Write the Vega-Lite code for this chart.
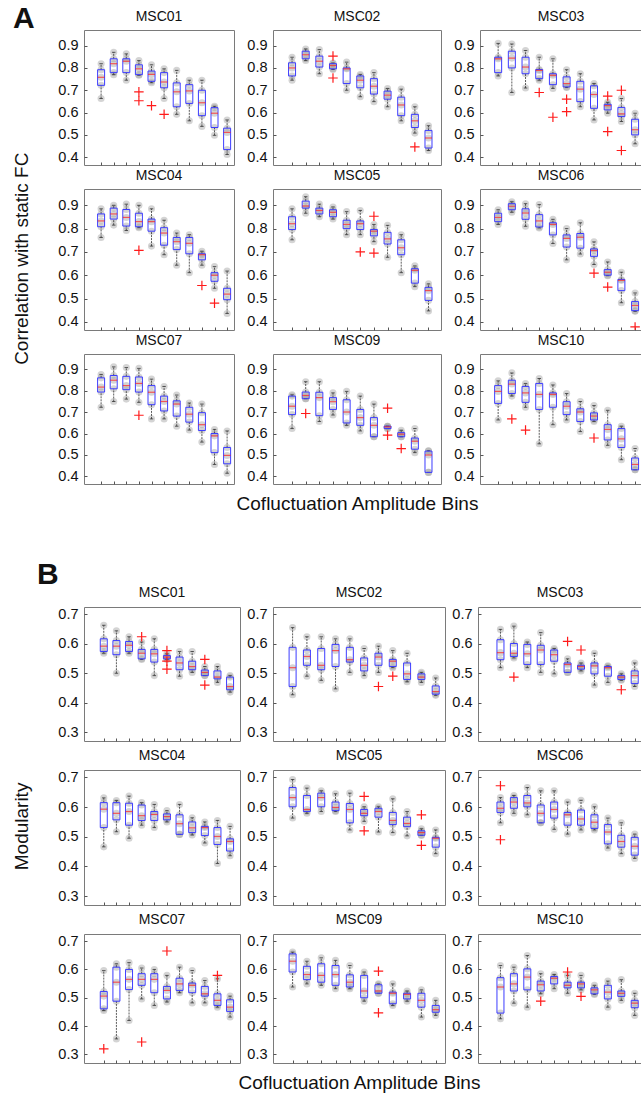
{
"$schema":"https://vega.github.io/schema/vega-lite/v6.json",
"padding":{"left":12,"top":3,"right":0,"bottom":0},
"background":"white",
"datasets":{"d":[
{"s":"A","p":"MSC01","b":1,"lo":0.663,"q1":0.722,"md":0.758,"q3":0.792,"hi":0.819},
{"s":"A","p":"MSC01","b":2,"lo":0.770,"q1":0.779,"md":0.819,"q3":0.841,"hi":0.870},
{"s":"A","p":"MSC01","b":3,"lo":0.745,"q1":0.779,"md":0.830,"q3":0.841,"hi":0.863},
{"s":"A","p":"MSC01","b":4,"lo":0.767,"q1":0.770,"md":0.796,"q3":0.814,"hi":0.833,"o":[0.693,0.653]},
{"s":"A","p":"MSC01","b":5,"lo":0.734,"q1":0.740,"md":0.771,"q3":0.786,"hi":0.814,"o":[0.631]},
{"s":"A","p":"MSC01","b":6,"lo":0.663,"q1":0.711,"md":0.737,"q3":0.779,"hi":0.796,"o":[0.592]},
{"s":"A","p":"MSC01","b":7,"lo":0.592,"q1":0.626,"md":0.693,"q3":0.733,"hi":0.789},
{"s":"A","p":"MSC01","b":8,"lo":0.563,"q1":0.641,"md":0.697,"q3":0.725,"hi":0.745},
{"s":"A","p":"MSC01","b":9,"lo":0.538,"q1":0.586,"md":0.644,"q3":0.700,"hi":0.745},
{"s":"A","p":"MSC01","b":10,"lo":0.498,"q1":0.533,"md":0.597,"q3":0.622,"hi":0.628},
{"s":"A","p":"MSC01","b":11,"lo":0.412,"q1":0.434,"md":0.511,"q3":0.530,"hi":0.567},
{"s":"A","p":"MSC02","b":1,"lo":0.745,"q1":0.764,"md":0.800,"q3":0.823,"hi":0.848},
{"s":"A","p":"MSC02","b":2,"lo":0.833,"q1":0.841,"md":0.859,"q3":0.875,"hi":0.885},
{"s":"A","p":"MSC02","b":3,"lo":0.774,"q1":0.804,"md":0.830,"q3":0.853,"hi":0.882},
{"s":"A","p":"MSC02","b":4,"lo":0.793,"q1":0.796,"md":0.811,"q3":0.819,"hi":0.822,"o":[0.853,0.755]},
{"s":"A","p":"MSC02","b":5,"lo":0.700,"q1":0.730,"md":0.796,"q3":0.800,"hi":0.826},
{"s":"A","p":"MSC02","b":6,"lo":0.671,"q1":0.711,"md":0.745,"q3":0.764,"hi":0.770},
{"s":"A","p":"MSC02","b":7,"lo":0.649,"q1":0.683,"md":0.718,"q3":0.752,"hi":0.779},
{"s":"A","p":"MSC02","b":8,"lo":0.626,"q1":0.660,"md":0.678,"q3":0.696,"hi":0.708},
{"s":"A","p":"MSC02","b":9,"lo":0.563,"q1":0.586,"md":0.634,"q3":0.669,"hi":0.705},
{"s":"A","p":"MSC02","b":10,"lo":0.508,"q1":0.533,"md":0.563,"q3":0.592,"hi":0.626,"o":[0.446]},
{"s":"A","p":"MSC02","b":11,"lo":0.430,"q1":0.441,"md":0.486,"q3":0.520,"hi":0.541},
{"s":"A","p":"MSC03","b":1,"lo":0.764,"q1":0.779,"md":0.841,"q3":0.848,"hi":0.910},
{"s":"A","p":"MSC03","b":2,"lo":0.690,"q1":0.800,"md":0.844,"q3":0.875,"hi":0.907},
{"s":"A","p":"MSC03","b":3,"lo":0.710,"q1":0.774,"md":0.804,"q3":0.848,"hi":0.878},
{"s":"A","p":"MSC03","b":4,"lo":0.745,"q1":0.752,"md":0.789,"q3":0.793,"hi":0.848,"o":[0.690]},
{"s":"A","p":"MSC03","b":5,"lo":0.708,"q1":0.725,"md":0.767,"q3":0.774,"hi":0.841,"o":[0.579]},
{"s":"A","p":"MSC03","b":6,"lo":0.712,"q1":0.715,"md":0.730,"q3":0.760,"hi":0.792,"o":[0.660,0.604]},
{"s":"A","p":"MSC03","b":7,"lo":0.626,"q1":0.649,"md":0.705,"q3":0.740,"hi":0.774},
{"s":"A","p":"MSC03","b":8,"lo":0.567,"q1":0.619,"md":0.681,"q3":0.720,"hi":0.730},
{"s":"A","p":"MSC03","b":9,"lo":0.597,"q1":0.612,"md":0.631,"q3":0.637,"hi":0.646,"o":[0.674,0.515]},
{"s":"A","p":"MSC03","b":10,"lo":0.560,"q1":0.582,"md":0.594,"q3":0.623,"hi":0.663,"o":[0.700,0.430]},
{"s":"A","p":"MSC03","b":11,"lo":0.460,"q1":0.500,"md":0.523,"q3":0.570,"hi":0.597},
{"s":"A","p":"MSC04","b":1,"lo":0.762,"q1":0.808,"md":0.833,"q3":0.863,"hi":0.885},
{"s":"A","p":"MSC04","b":2,"lo":0.815,"q1":0.841,"md":0.863,"q3":0.888,"hi":0.900},
{"s":"A","p":"MSC04","b":3,"lo":0.792,"q1":0.811,"md":0.848,"q3":0.882,"hi":0.905},
{"s":"A","p":"MSC04","b":4,"lo":0.804,"q1":0.808,"md":0.830,"q3":0.866,"hi":0.900,"o":[0.707]},
{"s":"A","p":"MSC04","b":5,"lo":0.725,"q1":0.789,"md":0.830,"q3":0.841,"hi":0.885},
{"s":"A","p":"MSC04","b":6,"lo":0.688,"q1":0.729,"md":0.781,"q3":0.804,"hi":0.836},
{"s":"A","p":"MSC04","b":7,"lo":0.643,"q1":0.710,"md":0.744,"q3":0.762,"hi":0.781},
{"s":"A","p":"MSC04","b":8,"lo":0.611,"q1":0.692,"md":0.737,"q3":0.762,"hi":0.774},
{"s":"A","p":"MSC04","b":9,"lo":0.643,"q1":0.666,"md":0.688,"q3":0.692,"hi":0.703,"o":[0.556]},
{"s":"A","p":"MSC04","b":10,"lo":0.544,"q1":0.574,"md":0.600,"q3":0.611,"hi":0.637,"o":[0.480]},
{"s":"A","p":"MSC04","b":11,"lo":0.436,"q1":0.495,"md":0.519,"q3":0.544,"hi":0.618},
{"s":"A","p":"MSC05","b":1,"lo":0.752,"q1":0.796,"md":0.821,"q3":0.851,"hi":0.885},
{"s":"A","p":"MSC05","b":2,"lo":0.866,"q1":0.888,"md":0.897,"q3":0.918,"hi":0.937},
{"s":"A","p":"MSC05","b":3,"lo":0.851,"q1":0.863,"md":0.878,"q3":0.888,"hi":0.905},
{"s":"A","p":"MSC05","b":4,"lo":0.841,"q1":0.851,"md":0.870,"q3":0.881,"hi":0.893},
{"s":"A","p":"MSC05","b":5,"lo":0.774,"q1":0.800,"md":0.818,"q3":0.836,"hi":0.873},
{"s":"A","p":"MSC05","b":6,"lo":0.774,"q1":0.796,"md":0.821,"q3":0.833,"hi":0.878,"o":[0.700]},
{"s":"A","p":"MSC05","b":7,"lo":0.744,"q1":0.769,"md":0.789,"q3":0.796,"hi":0.818,"o":[0.853,0.695]},
{"s":"A","p":"MSC05","b":8,"lo":0.677,"q1":0.734,"md":0.756,"q3":0.784,"hi":0.814},
{"s":"A","p":"MSC05","b":9,"lo":0.611,"q1":0.688,"md":0.718,"q3":0.752,"hi":0.774},
{"s":"A","p":"MSC05","b":10,"lo":0.551,"q1":0.566,"md":0.621,"q3":0.628,"hi":0.640},
{"s":"A","p":"MSC05","b":11,"lo":0.447,"q1":0.492,"md":0.534,"q3":0.548,"hi":0.563},
{"s":"A","p":"MSC06","b":1,"lo":0.818,"q1":0.830,"md":0.848,"q3":0.866,"hi":0.881},
{"s":"A","p":"MSC06","b":2,"lo":0.870,"q1":0.881,"md":0.896,"q3":0.907,"hi":0.915},
{"s":"A","p":"MSC06","b":3,"lo":0.810,"q1":0.840,"md":0.867,"q3":0.885,"hi":0.907},
{"s":"A","p":"MSC06","b":4,"lo":0.803,"q1":0.807,"md":0.833,"q3":0.860,"hi":0.903},
{"s":"A","p":"MSC06","b":5,"lo":0.736,"q1":0.773,"md":0.818,"q3":0.825,"hi":0.840},
{"s":"A","p":"MSC06","b":6,"lo":0.666,"q1":0.721,"md":0.758,"q3":0.773,"hi":0.800},
{"s":"A","p":"MSC06","b":7,"lo":0.691,"q1":0.716,"md":0.763,"q3":0.779,"hi":0.825},
{"s":"A","p":"MSC06","b":8,"lo":0.646,"q1":0.681,"md":0.706,"q3":0.713,"hi":0.743,"o":[0.609]},
{"s":"A","p":"MSC06","b":9,"lo":0.598,"q1":0.600,"md":0.613,"q3":0.624,"hi":0.657,"o":[0.549]},
{"s":"A","p":"MSC06","b":10,"lo":0.482,"q1":0.534,"md":0.578,"q3":0.582,"hi":0.613},
{"s":"A","p":"MSC06","b":11,"lo":0.445,"q1":0.448,"md":0.470,"q3":0.487,"hi":0.524,"o":[0.378]},
{"s":"A","p":"MSC07","b":1,"lo":0.722,"q1":0.793,"md":0.816,"q3":0.859,"hi":0.875},
{"s":"A","p":"MSC07","b":2,"lo":0.749,"q1":0.808,"md":0.848,"q3":0.870,"hi":0.910},
{"s":"A","p":"MSC07","b":3,"lo":0.760,"q1":0.804,"md":0.823,"q3":0.866,"hi":0.907},
{"s":"A","p":"MSC07","b":4,"lo":0.745,"q1":0.793,"md":0.833,"q3":0.863,"hi":0.903,"o":[0.685]},
{"s":"A","p":"MSC07","b":5,"lo":0.668,"q1":0.734,"md":0.792,"q3":0.823,"hi":0.853},
{"s":"A","p":"MSC07","b":6,"lo":0.668,"q1":0.705,"md":0.749,"q3":0.774,"hi":0.819},
{"s":"A","p":"MSC07","b":7,"lo":0.634,"q1":0.681,"md":0.737,"q3":0.752,"hi":0.779},
{"s":"A","p":"MSC07","b":8,"lo":0.616,"q1":0.653,"md":0.690,"q3":0.722,"hi":0.742},
{"s":"A","p":"MSC07","b":9,"lo":0.560,"q1":0.614,"md":0.641,"q3":0.697,"hi":0.737},
{"s":"A","p":"MSC07","b":10,"lo":0.456,"q1":0.511,"md":0.589,"q3":0.600,"hi":0.619},
{"s":"A","p":"MSC07","b":11,"lo":0.415,"q1":0.459,"md":0.498,"q3":0.535,"hi":0.612},
{"s":"A","p":"MSC09","b":1,"lo":0.623,"q1":0.688,"md":0.727,"q3":0.774,"hi":0.780},
{"s":"A","p":"MSC09","b":2,"lo":0.762,"q1":0.762,"md":0.777,"q3":0.793,"hi":0.841,"o":[0.693]},
{"s":"A","p":"MSC09","b":3,"lo":0.656,"q1":0.683,"md":0.767,"q3":0.792,"hi":0.841},
{"s":"A","p":"MSC09","b":4,"lo":0.686,"q1":0.712,"md":0.748,"q3":0.767,"hi":0.789},
{"s":"A","p":"MSC09","b":5,"lo":0.638,"q1":0.649,"md":0.700,"q3":0.757,"hi":0.796},
{"s":"A","p":"MSC09","b":6,"lo":0.612,"q1":0.638,"md":0.674,"q3":0.712,"hi":0.774},
{"s":"A","p":"MSC09","b":7,"lo":0.585,"q1":0.585,"md":0.638,"q3":0.674,"hi":0.737},
{"s":"A","p":"MSC09","b":8,"lo":0.623,"q1":0.623,"md":0.631,"q3":0.634,"hi":0.634,"o":[0.718,0.592]},
{"s":"A","p":"MSC09","b":9,"lo":0.585,"q1":0.585,"md":0.597,"q3":0.604,"hi":0.615,"o":[0.530]},
{"s":"A","p":"MSC09","b":10,"lo":0.511,"q1":0.527,"md":0.564,"q3":0.579,"hi":0.623},
{"s":"A","p":"MSC09","b":11,"lo":0.419,"q1":0.419,"md":0.500,"q3":0.518,"hi":0.520},
{"s":"A","p":"MSC10","b":1,"lo":0.663,"q1":0.740,"md":0.796,"q3":0.823,"hi":0.845},
{"s":"A","p":"MSC10","b":2,"lo":0.774,"q1":0.786,"md":0.830,"q3":0.848,"hi":0.882,"o":[0.668]},
{"s":"A","p":"MSC10","b":3,"lo":0.722,"q1":0.745,"md":0.789,"q3":0.819,"hi":0.833,"o":[0.616]},
{"s":"A","p":"MSC10","b":4,"lo":0.552,"q1":0.712,"md":0.782,"q3":0.833,"hi":0.856},
{"s":"A","p":"MSC10","b":5,"lo":0.641,"q1":0.722,"md":0.782,"q3":0.789,"hi":0.826},
{"s":"A","p":"MSC10","b":6,"lo":0.663,"q1":0.688,"md":0.727,"q3":0.748,"hi":0.786},
{"s":"A","p":"MSC10","b":7,"lo":0.609,"q1":0.656,"md":0.700,"q3":0.715,"hi":0.749},
{"s":"A","p":"MSC10","b":8,"lo":0.656,"q1":0.663,"md":0.681,"q3":0.696,"hi":0.730,"o":[0.579]},
{"s":"A","p":"MSC10","b":9,"lo":0.545,"q1":0.570,"md":0.619,"q3":0.641,"hi":0.708},
{"s":"A","p":"MSC10","b":10,"lo":0.478,"q1":0.535,"md":0.575,"q3":0.623,"hi":0.634},
{"s":"A","p":"MSC10","b":11,"lo":0.431,"q1":0.431,"md":0.456,"q3":0.486,"hi":0.530},
{"s":"B","p":"MSC01","b":1,"lo":0.568,"q1":0.574,"md":0.592,"q3":0.617,"hi":0.663},
{"s":"B","p":"MSC01","b":2,"lo":0.500,"q1":0.563,"md":0.592,"q3":0.611,"hi":0.644},
{"s":"B","p":"MSC01","b":3,"lo":0.568,"q1":0.574,"md":0.595,"q3":0.608,"hi":0.624},
{"s":"B","p":"MSC01","b":4,"lo":0.547,"q1":0.549,"md":0.568,"q3":0.581,"hi":0.606,"o":[0.624]},
{"s":"B","p":"MSC01","b":5,"lo":0.492,"q1":0.538,"md":0.566,"q3":0.581,"hi":0.617},
{"s":"B","p":"MSC01","b":6,"lo":0.547,"q1":0.549,"md":0.555,"q3":0.560,"hi":0.566,"o":[0.577,0.541,0.514]},
{"s":"B","p":"MSC01","b":7,"lo":0.490,"q1":0.512,"md":0.535,"q3":0.555,"hi":0.574},
{"s":"B","p":"MSC01","b":8,"lo":0.503,"q1":0.512,"md":0.523,"q3":0.541,"hi":0.574},
{"s":"B","p":"MSC01","b":9,"lo":0.492,"q1":0.492,"md":0.503,"q3":0.511,"hi":0.523,"o":[0.547,0.460]},
{"s":"B","p":"MSC01","b":10,"lo":0.469,"q1":0.481,"md":0.487,"q3":0.508,"hi":0.523},
{"s":"B","p":"MSC01","b":11,"lo":0.436,"q1":0.444,"md":0.455,"q3":0.487,"hi":0.492},
{"s":"B","p":"MSC02","b":1,"lo":0.427,"q1":0.455,"md":0.519,"q3":0.588,"hi":0.655},
{"s":"B","p":"MSC02","b":2,"lo":0.490,"q1":0.527,"md":0.557,"q3":0.579,"hi":0.624},
{"s":"B","p":"MSC02","b":3,"lo":0.476,"q1":0.512,"md":0.527,"q3":0.584,"hi":0.624},
{"s":"B","p":"MSC02","b":4,"lo":0.447,"q1":0.523,"md":0.577,"q3":0.598,"hi":0.617},
{"s":"B","p":"MSC02","b":5,"lo":0.503,"q1":0.538,"md":0.546,"q3":0.588,"hi":0.617},
{"s":"B","p":"MSC02","b":6,"lo":0.492,"q1":0.508,"md":0.527,"q3":0.552,"hi":0.584},
{"s":"B","p":"MSC02","b":7,"lo":0.503,"q1":0.527,"md":0.555,"q3":0.568,"hi":0.592,"o":[0.455]},
{"s":"B","p":"MSC02","b":8,"lo":0.519,"q1":0.523,"md":0.541,"q3":0.547,"hi":0.577,"o":[0.490]},
{"s":"B","p":"MSC02","b":9,"lo":0.471,"q1":0.479,"md":0.498,"q3":0.535,"hi":0.568},
{"s":"B","p":"MSC02","b":10,"lo":0.469,"q1":0.479,"md":0.487,"q3":0.498,"hi":0.503},
{"s":"B","p":"MSC02","b":11,"lo":0.425,"q1":0.429,"md":0.438,"q3":0.457,"hi":0.484},
{"s":"B","p":"MSC03","b":1,"lo":0.519,"q1":0.546,"md":0.570,"q3":0.614,"hi":0.649},
{"s":"B","p":"MSC03","b":2,"lo":0.552,"q1":0.557,"md":0.568,"q3":0.601,"hi":0.660,"o":[0.487]},
{"s":"B","p":"MSC03","b":3,"lo":0.519,"q1":0.530,"md":0.566,"q3":0.598,"hi":0.606},
{"s":"B","p":"MSC03","b":4,"lo":0.503,"q1":0.530,"md":0.579,"q3":0.595,"hi":0.638},
{"s":"B","p":"MSC03","b":5,"lo":0.498,"q1":0.541,"md":0.563,"q3":0.579,"hi":0.584},
{"s":"B","p":"MSC03","b":6,"lo":0.503,"q1":0.503,"md":0.530,"q3":0.535,"hi":0.549,"o":[0.608]},
{"s":"B","p":"MSC03","b":7,"lo":0.508,"q1":0.514,"md":0.523,"q3":0.527,"hi":0.535,"o":[0.579]},
{"s":"B","p":"MSC03","b":8,"lo":0.460,"q1":0.498,"md":0.525,"q3":0.535,"hi":0.568},
{"s":"B","p":"MSC03","b":9,"lo":0.469,"q1":0.490,"md":0.519,"q3":0.523,"hi":0.525},
{"s":"B","p":"MSC03","b":10,"lo":0.476,"q1":0.479,"md":0.487,"q3":0.492,"hi":0.498,"o":[0.444]},
{"s":"B","p":"MSC03","b":11,"lo":0.455,"q1":0.465,"md":0.492,"q3":0.508,"hi":0.535},
{"s":"B","p":"MSC04","b":1,"lo":0.466,"q1":0.531,"md":0.593,"q3":0.615,"hi":0.631},
{"s":"B","p":"MSC04","b":2,"lo":0.517,"q1":0.557,"md":0.579,"q3":0.615,"hi":0.622},
{"s":"B","p":"MSC04","b":3,"lo":0.495,"q1":0.539,"md":0.585,"q3":0.613,"hi":0.637},
{"s":"B","p":"MSC04","b":4,"lo":0.539,"q1":0.555,"md":0.571,"q3":0.607,"hi":0.615},
{"s":"B","p":"MSC04","b":5,"lo":0.531,"q1":0.555,"md":0.575,"q3":0.585,"hi":0.609},
{"s":"B","p":"MSC04","b":6,"lo":0.550,"q1":0.557,"md":0.568,"q3":0.577,"hi":0.588},
{"s":"B","p":"MSC04","b":7,"lo":0.508,"q1":0.508,"md":0.544,"q3":0.574,"hi":0.609},
{"s":"B","p":"MSC04","b":8,"lo":0.506,"q1":0.514,"md":0.530,"q3":0.550,"hi":0.564},
{"s":"B","p":"MSC04","b":9,"lo":0.479,"q1":0.504,"md":0.531,"q3":0.535,"hi":0.550},
{"s":"B","p":"MSC04","b":10,"lo":0.410,"q1":0.474,"md":0.501,"q3":0.531,"hi":0.555},
{"s":"B","p":"MSC04","b":11,"lo":0.436,"q1":0.452,"md":0.484,"q3":0.493,"hi":0.535},
{"s":"B","p":"MSC05","b":1,"lo":0.563,"q1":0.601,"md":0.632,"q3":0.666,"hi":0.693},
{"s":"B","p":"MSC05","b":2,"lo":0.579,"q1":0.585,"md":0.592,"q3":0.639,"hi":0.664},
{"s":"B","p":"MSC05","b":3,"lo":0.585,"q1":0.601,"md":0.632,"q3":0.647,"hi":0.655},
{"s":"B","p":"MSC05","b":4,"lo":0.585,"q1":0.588,"md":0.599,"q3":0.617,"hi":0.645},
{"s":"B","p":"MSC05","b":5,"lo":0.523,"q1":0.547,"md":0.592,"q3":0.612,"hi":0.647},
{"s":"B","p":"MSC05","b":6,"lo":0.552,"q1":0.571,"md":0.579,"q3":0.592,"hi":0.601,"o":[0.636,0.520]},
{"s":"B","p":"MSC05","b":7,"lo":0.516,"q1":0.566,"md":0.585,"q3":0.596,"hi":0.601},
{"s":"B","p":"MSC05","b":8,"lo":0.514,"q1":0.541,"md":0.555,"q3":0.582,"hi":0.628},
{"s":"B","p":"MSC05","b":9,"lo":0.503,"q1":0.534,"md":0.545,"q3":0.566,"hi":0.585},
{"s":"B","p":"MSC05","b":10,"lo":0.505,"q1":0.505,"md":0.514,"q3":0.520,"hi":0.527,"o":[0.574,0.471]},
{"s":"B","p":"MSC05","b":11,"lo":0.443,"q1":0.465,"md":0.495,"q3":0.498,"hi":0.523},
{"s":"B","p":"MSC06","b":1,"lo":0.547,"q1":0.582,"md":0.596,"q3":0.617,"hi":0.632,"o":[0.672,0.490]},
{"s":"B","p":"MSC06","b":2,"lo":0.579,"q1":0.596,"md":0.617,"q3":0.632,"hi":0.639},
{"s":"B","p":"MSC06","b":3,"lo":0.574,"q1":0.601,"md":0.614,"q3":0.639,"hi":0.666},
{"s":"B","p":"MSC06","b":4,"lo":0.547,"q1":0.547,"md":0.579,"q3":0.607,"hi":0.655},
{"s":"B","p":"MSC06","b":5,"lo":0.525,"q1":0.563,"md":0.592,"q3":0.617,"hi":0.655},
{"s":"B","p":"MSC06","b":6,"lo":0.509,"q1":0.539,"md":0.574,"q3":0.582,"hi":0.617},
{"s":"B","p":"MSC06","b":7,"lo":0.523,"q1":0.539,"md":0.560,"q3":0.590,"hi":0.623},
{"s":"B","p":"MSC06","b":8,"lo":0.523,"q1":0.528,"md":0.549,"q3":0.574,"hi":0.601},
{"s":"B","p":"MSC06","b":9,"lo":0.462,"q1":0.476,"md":0.516,"q3":0.541,"hi":0.563},
{"s":"B","p":"MSC06","b":10,"lo":0.443,"q1":0.465,"md":0.484,"q3":0.505,"hi":0.547},
{"s":"B","p":"MSC06","b":11,"lo":0.427,"q1":0.438,"md":0.468,"q3":0.498,"hi":0.509},
{"s":"B","p":"MSC07","b":1,"lo":0.455,"q1":0.461,"md":0.506,"q3":0.522,"hi":0.596,"o":[0.320]},
{"s":"B","p":"MSC07","b":2,"lo":0.355,"q1":0.488,"md":0.555,"q3":0.608,"hi":0.620},
{"s":"B","p":"MSC07","b":3,"lo":0.420,"q1":0.529,"md":0.565,"q3":0.600,"hi":0.624},
{"s":"B","p":"MSC07","b":4,"lo":0.496,"q1":0.544,"md":0.565,"q3":0.585,"hi":0.605,"o":[0.344]},
{"s":"B","p":"MSC07","b":5,"lo":0.473,"q1":0.518,"md":0.565,"q3":0.585,"hi":0.600},
{"s":"B","p":"MSC07","b":6,"lo":0.485,"q1":0.496,"md":0.526,"q3":0.540,"hi":0.579,"o":[0.665]},
{"s":"B","p":"MSC07","b":7,"lo":0.518,"q1":0.526,"md":0.549,"q3":0.569,"hi":0.608},
{"s":"B","p":"MSC07","b":8,"lo":0.482,"q1":0.518,"md":0.544,"q3":0.552,"hi":0.596},
{"s":"B","p":"MSC07","b":9,"lo":0.482,"q1":0.506,"md":0.514,"q3":0.540,"hi":0.561},
{"s":"B","p":"MSC07","b":10,"lo":0.467,"q1":0.473,"md":0.491,"q3":0.514,"hi":0.567,"o":[0.579]},
{"s":"B","p":"MSC07","b":11,"lo":0.432,"q1":0.452,"md":0.467,"q3":0.493,"hi":0.506},
{"s":"B","p":"MSC09","b":1,"lo":0.538,"q1":0.591,"md":0.629,"q3":0.655,"hi":0.661},
{"s":"B","p":"MSC09","b":2,"lo":0.549,"q1":0.564,"md":0.582,"q3":0.611,"hi":0.629},
{"s":"B","p":"MSC09","b":3,"lo":0.544,"q1":0.555,"md":0.579,"q3":0.620,"hi":0.641},
{"s":"B","p":"MSC09","b":4,"lo":0.532,"q1":0.544,"md":0.582,"q3":0.614,"hi":0.632},
{"s":"B","p":"MSC09","b":5,"lo":0.532,"q1":0.538,"md":0.555,"q3":0.581,"hi":0.614},
{"s":"B","p":"MSC09","b":6,"lo":0.488,"q1":0.500,"md":0.524,"q3":0.579,"hi":0.591},
{"s":"B","p":"MSC09","b":7,"lo":0.516,"q1":0.516,"md":0.524,"q3":0.546,"hi":0.549,"o":[0.594,0.447]},
{"s":"B","p":"MSC09","b":8,"lo":0.473,"q1":0.479,"md":0.516,"q3":0.520,"hi":0.549},
{"s":"B","p":"MSC09","b":9,"lo":0.488,"q1":0.496,"md":0.512,"q3":0.516,"hi":0.524},
{"s":"B","p":"MSC09","b":10,"lo":0.432,"q1":0.467,"md":0.491,"q3":0.516,"hi":0.528},
{"s":"B","p":"MSC09","b":11,"lo":0.438,"q1":0.449,"md":0.458,"q3":0.473,"hi":0.491},
{"s":"B","p":"MSC10","b":1,"lo":0.426,"q1":0.446,"md":0.538,"q3":0.571,"hi":0.614},
{"s":"B","p":"MSC10","b":2,"lo":0.481,"q1":0.524,"md":0.549,"q3":0.585,"hi":0.608},
{"s":"B","p":"MSC10","b":3,"lo":0.467,"q1":0.528,"md":0.573,"q3":0.602,"hi":0.649},
{"s":"B","p":"MSC10","b":4,"lo":0.514,"q1":0.524,"md":0.546,"q3":0.559,"hi":0.585,"o":[0.488]},
{"s":"B","p":"MSC10","b":5,"lo":0.532,"q1":0.549,"md":0.569,"q3":0.575,"hi":0.582},
{"s":"B","p":"MSC10","b":6,"lo":0.516,"q1":0.535,"md":0.544,"q3":0.555,"hi":0.579,"o":[0.591]},
{"s":"B","p":"MSC10","b":7,"lo":0.528,"q1":0.535,"md":0.549,"q3":0.555,"hi":0.579,"o":[0.505]},
{"s":"B","p":"MSC10","b":8,"lo":0.512,"q1":0.514,"md":0.528,"q3":0.535,"hi":0.544},
{"s":"B","p":"MSC10","b":9,"lo":0.467,"q1":0.496,"md":0.520,"q3":0.544,"hi":0.559},
{"s":"B","p":"MSC10","b":10,"lo":0.491,"q1":0.505,"md":0.516,"q3":0.524,"hi":0.564},
{"s":"B","p":"MSC10","b":11,"lo":0.438,"q1":0.465,"md":0.481,"q3":0.491,"hi":0.516}
]},
"data":{"name":"d"},
"spacing":45,
"vconcat":[
{"title":{"text":"Correlation with static FC","orient":"left","anchor":"middle","frame":"bounds","fontSize":19,"fontWeight":"normal","offset":-19},
 "spacing":2,
 "vconcat":[
 {"title":{"text":"A","anchor":"start","frame":"group","fontSize":30,"fontWeight":"bold","baseline":"alphabetic","dx":-71,"dy":48,"offset":0},
  "bounds":"flush","spacing":39,"hconcat":[
  {"title":"MSC01","width":150,"height":135,"transform":[{"filter":"datum.s=='A'&&datum.p=='MSC01'"}],
   "encoding":{"x":{"field":"b","type":"quantitative","scale":{"domain":[0.04,11.15],"nice":false,"zero":false},"axis":{"values":[1,2,3,4,5,6,7,8,9,10,11],"labels":false,"tickSize":-3,"title":null}}},
   "layer":[
    {"transform":[{"fold":["lo","q1","md","q3","hi"],"as":["k","v"]}],"mark":{"type":"circle","size":50,"color":"#a0a0a0","opacity":0.45,"clip":true},"encoding":{"y":{"field":"v","type":"quantitative","scale":{"domain":[0.365,0.97],"nice":false,"zero":false},"axis":{"title":null}}}},
    {"mark":{"type":"rule","color":"#333","strokeWidth":0.8,"strokeDash":[2,1],"clip":true},"encoding":{"y":{"field":"lo","type":"quantitative"},"y2":{"field":"q1"}}},
    {"mark":{"type":"rule","color":"#333","strokeWidth":0.8,"strokeDash":[2,1],"clip":true},"encoding":{"y":{"field":"q3","type":"quantitative"},"y2":{"field":"hi"}}},
    {"transform":[{"fold":["lo","hi"],"as":["k","v"]}],"mark":{"type":"tick","orient":"horizontal","size":3.5,"thickness":1,"color":"#222","clip":true},"encoding":{"y":{"field":"v","type":"quantitative"}}},
    {"mark":{"type":"bar","size":7,"fillOpacity":0,"stroke":"#3c3cff","strokeWidth":1,"clip":true},"encoding":{"y":{"field":"q1","type":"quantitative"},"y2":{"field":"q3"}}},
    {"mark":{"type":"tick","orient":"horizontal","size":7,"thickness":1.2,"color":"#ff2020","clip":true},"encoding":{"y":{"field":"md","type":"quantitative"}}},
    {"transform":[{"filter":"isArray(datum.o)"},{"flatten":["o"]}],"mark":{"type":"point","shape":"M-1,0L1,0M0,-1L0,1","size":90,"filled":false,"stroke":"#ff1a1a","strokeWidth":1.2,"opacity":1,"clip":true},"encoding":{"y":{"field":"o","type":"quantitative"}}}
   ]},
  {"title":"MSC02","width":168,"height":135,"transform":[{"filter":"datum.s=='A'&&datum.p=='MSC02'"}],
   "encoding":{"x":{"field":"b","type":"quantitative","scale":{"domain":[-0.03,11.55],"nice":false,"zero":false},"axis":{"values":[1,2,3,4,5,6,7,8,9,10,11],"labels":false,"tickSize":-3,"title":null}}},
   "layer":[
    {"transform":[{"fold":["lo","q1","md","q3","hi"],"as":["k","v"]}],"mark":{"type":"circle","size":50,"color":"#a0a0a0","opacity":0.45,"clip":true},"encoding":{"y":{"field":"v","type":"quantitative","scale":{"domain":[0.365,0.97],"nice":false,"zero":false},"axis":{"title":null}}}},
    {"mark":{"type":"rule","color":"#333","strokeWidth":0.8,"strokeDash":[2,1],"clip":true},"encoding":{"y":{"field":"lo","type":"quantitative"},"y2":{"field":"q1"}}},
    {"mark":{"type":"rule","color":"#333","strokeWidth":0.8,"strokeDash":[2,1],"clip":true},"encoding":{"y":{"field":"q3","type":"quantitative"},"y2":{"field":"hi"}}},
    {"transform":[{"fold":["lo","hi"],"as":["k","v"]}],"mark":{"type":"tick","orient":"horizontal","size":3.5,"thickness":1,"color":"#222","clip":true},"encoding":{"y":{"field":"v","type":"quantitative"}}},
    {"mark":{"type":"bar","size":7,"fillOpacity":0,"stroke":"#3c3cff","strokeWidth":1,"clip":true},"encoding":{"y":{"field":"q1","type":"quantitative"},"y2":{"field":"q3"}}},
    {"mark":{"type":"tick","orient":"horizontal","size":7,"thickness":1.2,"color":"#ff2020","clip":true},"encoding":{"y":{"field":"md","type":"quantitative"}}},
    {"transform":[{"filter":"isArray(datum.o)"},{"flatten":["o"]}],"mark":{"type":"point","shape":"M-1,0L1,0M0,-1L0,1","size":90,"filled":false,"stroke":"#ff1a1a","strokeWidth":1.2,"opacity":1,"clip":true},"encoding":{"y":{"field":"o","type":"quantitative"}}}
   ]},
  {"title":"MSC03","width":162,"height":135,"transform":[{"filter":"datum.s=='A'&&datum.p=='MSC03'"}],
   "encoding":{"x":{"field":"b","type":"quantitative","scale":{"domain":[0.04,11.14],"nice":false,"zero":false},"axis":{"values":[1,2,3,4,5,6,7,8,9,10,11],"labels":false,"tickSize":-3,"title":null}}},
   "layer":[
    {"transform":[{"fold":["lo","q1","md","q3","hi"],"as":["k","v"]}],"mark":{"type":"circle","size":50,"color":"#a0a0a0","opacity":0.45,"clip":true},"encoding":{"y":{"field":"v","type":"quantitative","scale":{"domain":[0.365,0.97],"nice":false,"zero":false},"axis":{"title":null}}}},
    {"mark":{"type":"rule","color":"#333","strokeWidth":0.8,"strokeDash":[2,1],"clip":true},"encoding":{"y":{"field":"lo","type":"quantitative"},"y2":{"field":"q1"}}},
    {"mark":{"type":"rule","color":"#333","strokeWidth":0.8,"strokeDash":[2,1],"clip":true},"encoding":{"y":{"field":"q3","type":"quantitative"},"y2":{"field":"hi"}}},
    {"transform":[{"fold":["lo","hi"],"as":["k","v"]}],"mark":{"type":"tick","orient":"horizontal","size":3.5,"thickness":1,"color":"#222","clip":true},"encoding":{"y":{"field":"v","type":"quantitative"}}},
    {"mark":{"type":"bar","size":7,"fillOpacity":0,"stroke":"#3c3cff","strokeWidth":1,"clip":true},"encoding":{"y":{"field":"q1","type":"quantitative"},"y2":{"field":"q3"}}},
    {"mark":{"type":"tick","orient":"horizontal","size":7,"thickness":1.2,"color":"#ff2020","clip":true},"encoding":{"y":{"field":"md","type":"quantitative"}}},
    {"transform":[{"filter":"isArray(datum.o)"},{"flatten":["o"]}],"mark":{"type":"point","shape":"M-1,0L1,0M0,-1L0,1","size":90,"filled":false,"stroke":"#ff1a1a","strokeWidth":1.2,"opacity":1,"clip":true},"encoding":{"y":{"field":"o","type":"quantitative"}}}
   ]}]},
 {"bounds":"flush","spacing":39,"hconcat":[
  {"title":"MSC04","width":150,"height":141,"transform":[{"filter":"datum.s=='A'&&datum.p=='MSC04'"}],
   "encoding":{"x":{"field":"b","type":"quantitative","scale":{"domain":[0.04,11.15],"nice":false,"zero":false},"axis":{"values":[1,2,3,4,5,6,7,8,9,10,11],"labels":false,"tickSize":-3,"title":null}}},
   "layer":[
    {"transform":[{"fold":["lo","q1","md","q3","hi"],"as":["k","v"]}],"mark":{"type":"circle","size":50,"color":"#a0a0a0","opacity":0.45,"clip":true},"encoding":{"y":{"field":"v","type":"quantitative","scale":{"domain":[0.365,0.97],"nice":false,"zero":false},"axis":{"title":null}}}},
    {"mark":{"type":"rule","color":"#333","strokeWidth":0.8,"strokeDash":[2,1],"clip":true},"encoding":{"y":{"field":"lo","type":"quantitative"},"y2":{"field":"q1"}}},
    {"mark":{"type":"rule","color":"#333","strokeWidth":0.8,"strokeDash":[2,1],"clip":true},"encoding":{"y":{"field":"q3","type":"quantitative"},"y2":{"field":"hi"}}},
    {"transform":[{"fold":["lo","hi"],"as":["k","v"]}],"mark":{"type":"tick","orient":"horizontal","size":3.5,"thickness":1,"color":"#222","clip":true},"encoding":{"y":{"field":"v","type":"quantitative"}}},
    {"mark":{"type":"bar","size":7,"fillOpacity":0,"stroke":"#3c3cff","strokeWidth":1,"clip":true},"encoding":{"y":{"field":"q1","type":"quantitative"},"y2":{"field":"q3"}}},
    {"mark":{"type":"tick","orient":"horizontal","size":7,"thickness":1.2,"color":"#ff2020","clip":true},"encoding":{"y":{"field":"md","type":"quantitative"}}},
    {"transform":[{"filter":"isArray(datum.o)"},{"flatten":["o"]}],"mark":{"type":"point","shape":"M-1,0L1,0M0,-1L0,1","size":90,"filled":false,"stroke":"#ff1a1a","strokeWidth":1.2,"opacity":1,"clip":true},"encoding":{"y":{"field":"o","type":"quantitative"}}}
   ]},
  {"title":"MSC05","width":168,"height":141,"transform":[{"filter":"datum.s=='A'&&datum.p=='MSC05'"}],
   "encoding":{"x":{"field":"b","type":"quantitative","scale":{"domain":[-0.03,11.55],"nice":false,"zero":false},"axis":{"values":[1,2,3,4,5,6,7,8,9,10,11],"labels":false,"tickSize":-3,"title":null}}},
   "layer":[
    {"transform":[{"fold":["lo","q1","md","q3","hi"],"as":["k","v"]}],"mark":{"type":"circle","size":50,"color":"#a0a0a0","opacity":0.45,"clip":true},"encoding":{"y":{"field":"v","type":"quantitative","scale":{"domain":[0.365,0.97],"nice":false,"zero":false},"axis":{"title":null}}}},
    {"mark":{"type":"rule","color":"#333","strokeWidth":0.8,"strokeDash":[2,1],"clip":true},"encoding":{"y":{"field":"lo","type":"quantitative"},"y2":{"field":"q1"}}},
    {"mark":{"type":"rule","color":"#333","strokeWidth":0.8,"strokeDash":[2,1],"clip":true},"encoding":{"y":{"field":"q3","type":"quantitative"},"y2":{"field":"hi"}}},
    {"transform":[{"fold":["lo","hi"],"as":["k","v"]}],"mark":{"type":"tick","orient":"horizontal","size":3.5,"thickness":1,"color":"#222","clip":true},"encoding":{"y":{"field":"v","type":"quantitative"}}},
    {"mark":{"type":"bar","size":7,"fillOpacity":0,"stroke":"#3c3cff","strokeWidth":1,"clip":true},"encoding":{"y":{"field":"q1","type":"quantitative"},"y2":{"field":"q3"}}},
    {"mark":{"type":"tick","orient":"horizontal","size":7,"thickness":1.2,"color":"#ff2020","clip":true},"encoding":{"y":{"field":"md","type":"quantitative"}}},
    {"transform":[{"filter":"isArray(datum.o)"},{"flatten":["o"]}],"mark":{"type":"point","shape":"M-1,0L1,0M0,-1L0,1","size":90,"filled":false,"stroke":"#ff1a1a","strokeWidth":1.2,"opacity":1,"clip":true},"encoding":{"y":{"field":"o","type":"quantitative"}}}
   ]},
  {"title":"MSC06","width":162,"height":141,"transform":[{"filter":"datum.s=='A'&&datum.p=='MSC06'"}],
   "encoding":{"x":{"field":"b","type":"quantitative","scale":{"domain":[0.04,11.14],"nice":false,"zero":false},"axis":{"values":[1,2,3,4,5,6,7,8,9,10,11],"labels":false,"tickSize":-3,"title":null}}},
   "layer":[
    {"transform":[{"fold":["lo","q1","md","q3","hi"],"as":["k","v"]}],"mark":{"type":"circle","size":50,"color":"#a0a0a0","opacity":0.45,"clip":true},"encoding":{"y":{"field":"v","type":"quantitative","scale":{"domain":[0.365,0.97],"nice":false,"zero":false},"axis":{"title":null}}}},
    {"mark":{"type":"rule","color":"#333","strokeWidth":0.8,"strokeDash":[2,1],"clip":true},"encoding":{"y":{"field":"lo","type":"quantitative"},"y2":{"field":"q1"}}},
    {"mark":{"type":"rule","color":"#333","strokeWidth":0.8,"strokeDash":[2,1],"clip":true},"encoding":{"y":{"field":"q3","type":"quantitative"},"y2":{"field":"hi"}}},
    {"transform":[{"fold":["lo","hi"],"as":["k","v"]}],"mark":{"type":"tick","orient":"horizontal","size":3.5,"thickness":1,"color":"#222","clip":true},"encoding":{"y":{"field":"v","type":"quantitative"}}},
    {"mark":{"type":"bar","size":7,"fillOpacity":0,"stroke":"#3c3cff","strokeWidth":1,"clip":true},"encoding":{"y":{"field":"q1","type":"quantitative"},"y2":{"field":"q3"}}},
    {"mark":{"type":"tick","orient":"horizontal","size":7,"thickness":1.2,"color":"#ff2020","clip":true},"encoding":{"y":{"field":"md","type":"quantitative"}}},
    {"transform":[{"filter":"isArray(datum.o)"},{"flatten":["o"]}],"mark":{"type":"point","shape":"M-1,0L1,0M0,-1L0,1","size":90,"filled":false,"stroke":"#ff1a1a","strokeWidth":1.2,"opacity":1,"clip":true},"encoding":{"y":{"field":"o","type":"quantitative"}}}
   ]}]},
 {"bounds":"flush","spacing":39,"hconcat":[
  {"title":"MSC07","width":150,"height":130,"transform":[{"filter":"datum.s=='A'&&datum.p=='MSC07'"}],
   "encoding":{"x":{"field":"b","type":"quantitative","scale":{"domain":[0.04,11.15],"nice":false,"zero":false},"axis":{"values":[1,2,3,4,5,6,7,8,9,10,11],"labels":false,"tickSize":-3,"title":null}}},
   "layer":[
    {"transform":[{"fold":["lo","q1","md","q3","hi"],"as":["k","v"]}],"mark":{"type":"circle","size":50,"color":"#a0a0a0","opacity":0.45,"clip":true},"encoding":{"y":{"field":"v","type":"quantitative","scale":{"domain":[0.365,0.97],"nice":false,"zero":false},"axis":{"title":null}}}},
    {"mark":{"type":"rule","color":"#333","strokeWidth":0.8,"strokeDash":[2,1],"clip":true},"encoding":{"y":{"field":"lo","type":"quantitative"},"y2":{"field":"q1"}}},
    {"mark":{"type":"rule","color":"#333","strokeWidth":0.8,"strokeDash":[2,1],"clip":true},"encoding":{"y":{"field":"q3","type":"quantitative"},"y2":{"field":"hi"}}},
    {"transform":[{"fold":["lo","hi"],"as":["k","v"]}],"mark":{"type":"tick","orient":"horizontal","size":3.5,"thickness":1,"color":"#222","clip":true},"encoding":{"y":{"field":"v","type":"quantitative"}}},
    {"mark":{"type":"bar","size":7,"fillOpacity":0,"stroke":"#3c3cff","strokeWidth":1,"clip":true},"encoding":{"y":{"field":"q1","type":"quantitative"},"y2":{"field":"q3"}}},
    {"mark":{"type":"tick","orient":"horizontal","size":7,"thickness":1.2,"color":"#ff2020","clip":true},"encoding":{"y":{"field":"md","type":"quantitative"}}},
    {"transform":[{"filter":"isArray(datum.o)"},{"flatten":["o"]}],"mark":{"type":"point","shape":"M-1,0L1,0M0,-1L0,1","size":90,"filled":false,"stroke":"#ff1a1a","strokeWidth":1.2,"opacity":1,"clip":true},"encoding":{"y":{"field":"o","type":"quantitative"}}}
   ]},
  {"title":"MSC09","width":168,"height":130,"transform":[{"filter":"datum.s=='A'&&datum.p=='MSC09'"}],
   "encoding":{"x":{"field":"b","type":"quantitative","scale":{"domain":[-0.03,11.55],"nice":false,"zero":false},"axis":{"values":[1,2,3,4,5,6,7,8,9,10,11],"labels":false,"tickSize":-3,"title":"Cofluctuation Amplitude Bins","titlePadding":10}}},
   "layer":[
    {"transform":[{"fold":["lo","q1","md","q3","hi"],"as":["k","v"]}],"mark":{"type":"circle","size":50,"color":"#a0a0a0","opacity":0.45,"clip":true},"encoding":{"y":{"field":"v","type":"quantitative","scale":{"domain":[0.365,0.97],"nice":false,"zero":false},"axis":{"title":null}}}},
    {"mark":{"type":"rule","color":"#333","strokeWidth":0.8,"strokeDash":[2,1],"clip":true},"encoding":{"y":{"field":"lo","type":"quantitative"},"y2":{"field":"q1"}}},
    {"mark":{"type":"rule","color":"#333","strokeWidth":0.8,"strokeDash":[2,1],"clip":true},"encoding":{"y":{"field":"q3","type":"quantitative"},"y2":{"field":"hi"}}},
    {"transform":[{"fold":["lo","hi"],"as":["k","v"]}],"mark":{"type":"tick","orient":"horizontal","size":3.5,"thickness":1,"color":"#222","clip":true},"encoding":{"y":{"field":"v","type":"quantitative"}}},
    {"mark":{"type":"bar","size":7,"fillOpacity":0,"stroke":"#3c3cff","strokeWidth":1,"clip":true},"encoding":{"y":{"field":"q1","type":"quantitative"},"y2":{"field":"q3"}}},
    {"mark":{"type":"tick","orient":"horizontal","size":7,"thickness":1.2,"color":"#ff2020","clip":true},"encoding":{"y":{"field":"md","type":"quantitative"}}},
    {"transform":[{"filter":"isArray(datum.o)"},{"flatten":["o"]}],"mark":{"type":"point","shape":"M-1,0L1,0M0,-1L0,1","size":90,"filled":false,"stroke":"#ff1a1a","strokeWidth":1.2,"opacity":1,"clip":true},"encoding":{"y":{"field":"o","type":"quantitative"}}}
   ]},
  {"title":"MSC10","width":162,"height":130,"transform":[{"filter":"datum.s=='A'&&datum.p=='MSC10'"}],
   "encoding":{"x":{"field":"b","type":"quantitative","scale":{"domain":[0.04,11.14],"nice":false,"zero":false},"axis":{"values":[1,2,3,4,5,6,7,8,9,10,11],"labels":false,"tickSize":-3,"title":null}}},
   "layer":[
    {"transform":[{"fold":["lo","q1","md","q3","hi"],"as":["k","v"]}],"mark":{"type":"circle","size":50,"color":"#a0a0a0","opacity":0.45,"clip":true},"encoding":{"y":{"field":"v","type":"quantitative","scale":{"domain":[0.365,0.97],"nice":false,"zero":false},"axis":{"title":null}}}},
    {"mark":{"type":"rule","color":"#333","strokeWidth":0.8,"strokeDash":[2,1],"clip":true},"encoding":{"y":{"field":"lo","type":"quantitative"},"y2":{"field":"q1"}}},
    {"mark":{"type":"rule","color":"#333","strokeWidth":0.8,"strokeDash":[2,1],"clip":true},"encoding":{"y":{"field":"q3","type":"quantitative"},"y2":{"field":"hi"}}},
    {"transform":[{"fold":["lo","hi"],"as":["k","v"]}],"mark":{"type":"tick","orient":"horizontal","size":3.5,"thickness":1,"color":"#222","clip":true},"encoding":{"y":{"field":"v","type":"quantitative"}}},
    {"mark":{"type":"bar","size":7,"fillOpacity":0,"stroke":"#3c3cff","strokeWidth":1,"clip":true},"encoding":{"y":{"field":"q1","type":"quantitative"},"y2":{"field":"q3"}}},
    {"mark":{"type":"tick","orient":"horizontal","size":7,"thickness":1.2,"color":"#ff2020","clip":true},"encoding":{"y":{"field":"md","type":"quantitative"}}},
    {"transform":[{"filter":"isArray(datum.o)"},{"flatten":["o"]}],"mark":{"type":"point","shape":"M-1,0L1,0M0,-1L0,1","size":90,"filled":false,"stroke":"#ff1a1a","strokeWidth":1.2,"opacity":1,"clip":true},"encoding":{"y":{"field":"o","type":"quantitative"}}}
   ]}]}
 ]},
{"title":{"text":"Modularity","orient":"left","anchor":"middle","frame":"bounds","fontSize":19,"fontWeight":"normal","offset":5},
 "spacing":6,
 "vconcat":[
 {"title":{"text":"B","anchor":"start","frame":"group","fontSize":30,"fontWeight":"bold","baseline":"alphabetic","dx":-47,"dy":28,"offset":0},
  "bounds":"flush","spacing":33,"hconcat":[
  {"title":"MSC01","width":156,"height":134,"transform":[{"filter":"datum.s=='B'&&datum.p=='MSC01'"}],
   "encoding":{"x":{"field":"b","type":"quantitative","scale":{"domain":[-0.17,11.39],"nice":false,"zero":false},"axis":{"values":[1,2,3,4,5,6,7,8,9,10,11],"labels":false,"tickSize":-3,"title":null}}},
   "layer":[
    {"transform":[{"fold":["lo","q1","md","q3","hi"],"as":["k","v"]}],"mark":{"type":"circle","size":50,"color":"#a0a0a0","opacity":0.45,"clip":true},"encoding":{"y":{"field":"v","type":"quantitative","scale":{"domain":[0.27,0.725],"nice":false,"zero":false},"axis":{"title":null}}}},
    {"mark":{"type":"rule","color":"#333","strokeWidth":0.8,"strokeDash":[2,1],"clip":true},"encoding":{"y":{"field":"lo","type":"quantitative"},"y2":{"field":"q1"}}},
    {"mark":{"type":"rule","color":"#333","strokeWidth":0.8,"strokeDash":[2,1],"clip":true},"encoding":{"y":{"field":"q3","type":"quantitative"},"y2":{"field":"hi"}}},
    {"transform":[{"fold":["lo","hi"],"as":["k","v"]}],"mark":{"type":"tick","orient":"horizontal","size":3.5,"thickness":1,"color":"#222","clip":true},"encoding":{"y":{"field":"v","type":"quantitative"}}},
    {"mark":{"type":"bar","size":7,"fillOpacity":0,"stroke":"#3c3cff","strokeWidth":1,"clip":true},"encoding":{"y":{"field":"q1","type":"quantitative"},"y2":{"field":"q3"}}},
    {"mark":{"type":"tick","orient":"horizontal","size":7,"thickness":1.2,"color":"#ff2020","clip":true},"encoding":{"y":{"field":"md","type":"quantitative"}}},
    {"transform":[{"filter":"isArray(datum.o)"},{"flatten":["o"]}],"mark":{"type":"point","shape":"M-1,0L1,0M0,-1L0,1","size":90,"filled":false,"stroke":"#ff1a1a","strokeWidth":1.2,"opacity":1,"clip":true},"encoding":{"y":{"field":"o","type":"quantitative"}}}
   ]},
  {"title":"MSC02","width":172,"height":134,"transform":[{"filter":"datum.s=='B'&&datum.p=='MSC02'"}],
   "encoding":{"x":{"field":"b","type":"quantitative","scale":{"domain":[-0.02,11.3],"nice":false,"zero":false},"axis":{"values":[1,2,3,4,5,6,7,8,9,10,11],"labels":false,"tickSize":-3,"title":null}}},
   "layer":[
    {"transform":[{"fold":["lo","q1","md","q3","hi"],"as":["k","v"]}],"mark":{"type":"circle","size":50,"color":"#a0a0a0","opacity":0.45,"clip":true},"encoding":{"y":{"field":"v","type":"quantitative","scale":{"domain":[0.27,0.725],"nice":false,"zero":false},"axis":{"title":null}}}},
    {"mark":{"type":"rule","color":"#333","strokeWidth":0.8,"strokeDash":[2,1],"clip":true},"encoding":{"y":{"field":"lo","type":"quantitative"},"y2":{"field":"q1"}}},
    {"mark":{"type":"rule","color":"#333","strokeWidth":0.8,"strokeDash":[2,1],"clip":true},"encoding":{"y":{"field":"q3","type":"quantitative"},"y2":{"field":"hi"}}},
    {"transform":[{"fold":["lo","hi"],"as":["k","v"]}],"mark":{"type":"tick","orient":"horizontal","size":3.5,"thickness":1,"color":"#222","clip":true},"encoding":{"y":{"field":"v","type":"quantitative"}}},
    {"mark":{"type":"bar","size":7,"fillOpacity":0,"stroke":"#3c3cff","strokeWidth":1,"clip":true},"encoding":{"y":{"field":"q1","type":"quantitative"},"y2":{"field":"q3"}}},
    {"mark":{"type":"tick","orient":"horizontal","size":7,"thickness":1.2,"color":"#ff2020","clip":true},"encoding":{"y":{"field":"md","type":"quantitative"}}},
    {"transform":[{"filter":"isArray(datum.o)"},{"flatten":["o"]}],"mark":{"type":"point","shape":"M-1,0L1,0M0,-1L0,1","size":90,"filled":false,"stroke":"#ff1a1a","strokeWidth":1.2,"opacity":1,"clip":true},"encoding":{"y":{"field":"o","type":"quantitative"}}}
   ]},
  {"title":"MSC03","width":164,"height":134,"transform":[{"filter":"datum.s=='B'&&datum.p=='MSC03'"}],
   "encoding":{"x":{"field":"b","type":"quantitative","scale":{"domain":[-0.3,11.17],"nice":false,"zero":false},"axis":{"values":[1,2,3,4,5,6,7,8,9,10,11],"labels":false,"tickSize":-3,"title":null}}},
   "layer":[
    {"transform":[{"fold":["lo","q1","md","q3","hi"],"as":["k","v"]}],"mark":{"type":"circle","size":50,"color":"#a0a0a0","opacity":0.45,"clip":true},"encoding":{"y":{"field":"v","type":"quantitative","scale":{"domain":[0.27,0.725],"nice":false,"zero":false},"axis":{"title":null}}}},
    {"mark":{"type":"rule","color":"#333","strokeWidth":0.8,"strokeDash":[2,1],"clip":true},"encoding":{"y":{"field":"lo","type":"quantitative"},"y2":{"field":"q1"}}},
    {"mark":{"type":"rule","color":"#333","strokeWidth":0.8,"strokeDash":[2,1],"clip":true},"encoding":{"y":{"field":"q3","type":"quantitative"},"y2":{"field":"hi"}}},
    {"transform":[{"fold":["lo","hi"],"as":["k","v"]}],"mark":{"type":"tick","orient":"horizontal","size":3.5,"thickness":1,"color":"#222","clip":true},"encoding":{"y":{"field":"v","type":"quantitative"}}},
    {"mark":{"type":"bar","size":7,"fillOpacity":0,"stroke":"#3c3cff","strokeWidth":1,"clip":true},"encoding":{"y":{"field":"q1","type":"quantitative"},"y2":{"field":"q3"}}},
    {"mark":{"type":"tick","orient":"horizontal","size":7,"thickness":1.2,"color":"#ff2020","clip":true},"encoding":{"y":{"field":"md","type":"quantitative"}}},
    {"transform":[{"filter":"isArray(datum.o)"},{"flatten":["o"]}],"mark":{"type":"point","shape":"M-1,0L1,0M0,-1L0,1","size":90,"filled":false,"stroke":"#ff1a1a","strokeWidth":1.2,"opacity":1,"clip":true},"encoding":{"y":{"field":"o","type":"quantitative"}}}
   ]}]},
 {"bounds":"flush","spacing":33,"hconcat":[
  {"title":"MSC04","width":156,"height":135,"transform":[{"filter":"datum.s=='B'&&datum.p=='MSC04'"}],
   "encoding":{"x":{"field":"b","type":"quantitative","scale":{"domain":[-0.17,11.39],"nice":false,"zero":false},"axis":{"values":[1,2,3,4,5,6,7,8,9,10,11],"labels":false,"tickSize":-3,"title":null}}},
   "layer":[
    {"transform":[{"fold":["lo","q1","md","q3","hi"],"as":["k","v"]}],"mark":{"type":"circle","size":50,"color":"#a0a0a0","opacity":0.45,"clip":true},"encoding":{"y":{"field":"v","type":"quantitative","scale":{"domain":[0.27,0.725],"nice":false,"zero":false},"axis":{"title":null}}}},
    {"mark":{"type":"rule","color":"#333","strokeWidth":0.8,"strokeDash":[2,1],"clip":true},"encoding":{"y":{"field":"lo","type":"quantitative"},"y2":{"field":"q1"}}},
    {"mark":{"type":"rule","color":"#333","strokeWidth":0.8,"strokeDash":[2,1],"clip":true},"encoding":{"y":{"field":"q3","type":"quantitative"},"y2":{"field":"hi"}}},
    {"transform":[{"fold":["lo","hi"],"as":["k","v"]}],"mark":{"type":"tick","orient":"horizontal","size":3.5,"thickness":1,"color":"#222","clip":true},"encoding":{"y":{"field":"v","type":"quantitative"}}},
    {"mark":{"type":"bar","size":7,"fillOpacity":0,"stroke":"#3c3cff","strokeWidth":1,"clip":true},"encoding":{"y":{"field":"q1","type":"quantitative"},"y2":{"field":"q3"}}},
    {"mark":{"type":"tick","orient":"horizontal","size":7,"thickness":1.2,"color":"#ff2020","clip":true},"encoding":{"y":{"field":"md","type":"quantitative"}}},
    {"transform":[{"filter":"isArray(datum.o)"},{"flatten":["o"]}],"mark":{"type":"point","shape":"M-1,0L1,0M0,-1L0,1","size":90,"filled":false,"stroke":"#ff1a1a","strokeWidth":1.2,"opacity":1,"clip":true},"encoding":{"y":{"field":"o","type":"quantitative"}}}
   ]},
  {"title":"MSC05","width":172,"height":135,"transform":[{"filter":"datum.s=='B'&&datum.p=='MSC05'"}],
   "encoding":{"x":{"field":"b","type":"quantitative","scale":{"domain":[-0.02,11.3],"nice":false,"zero":false},"axis":{"values":[1,2,3,4,5,6,7,8,9,10,11],"labels":false,"tickSize":-3,"title":null}}},
   "layer":[
    {"transform":[{"fold":["lo","q1","md","q3","hi"],"as":["k","v"]}],"mark":{"type":"circle","size":50,"color":"#a0a0a0","opacity":0.45,"clip":true},"encoding":{"y":{"field":"v","type":"quantitative","scale":{"domain":[0.27,0.725],"nice":false,"zero":false},"axis":{"title":null}}}},
    {"mark":{"type":"rule","color":"#333","strokeWidth":0.8,"strokeDash":[2,1],"clip":true},"encoding":{"y":{"field":"lo","type":"quantitative"},"y2":{"field":"q1"}}},
    {"mark":{"type":"rule","color":"#333","strokeWidth":0.8,"strokeDash":[2,1],"clip":true},"encoding":{"y":{"field":"q3","type":"quantitative"},"y2":{"field":"hi"}}},
    {"transform":[{"fold":["lo","hi"],"as":["k","v"]}],"mark":{"type":"tick","orient":"horizontal","size":3.5,"thickness":1,"color":"#222","clip":true},"encoding":{"y":{"field":"v","type":"quantitative"}}},
    {"mark":{"type":"bar","size":7,"fillOpacity":0,"stroke":"#3c3cff","strokeWidth":1,"clip":true},"encoding":{"y":{"field":"q1","type":"quantitative"},"y2":{"field":"q3"}}},
    {"mark":{"type":"tick","orient":"horizontal","size":7,"thickness":1.2,"color":"#ff2020","clip":true},"encoding":{"y":{"field":"md","type":"quantitative"}}},
    {"transform":[{"filter":"isArray(datum.o)"},{"flatten":["o"]}],"mark":{"type":"point","shape":"M-1,0L1,0M0,-1L0,1","size":90,"filled":false,"stroke":"#ff1a1a","strokeWidth":1.2,"opacity":1,"clip":true},"encoding":{"y":{"field":"o","type":"quantitative"}}}
   ]},
  {"title":"MSC06","width":164,"height":135,"transform":[{"filter":"datum.s=='B'&&datum.p=='MSC06'"}],
   "encoding":{"x":{"field":"b","type":"quantitative","scale":{"domain":[-0.3,11.17],"nice":false,"zero":false},"axis":{"values":[1,2,3,4,5,6,7,8,9,10,11],"labels":false,"tickSize":-3,"title":null}}},
   "layer":[
    {"transform":[{"fold":["lo","q1","md","q3","hi"],"as":["k","v"]}],"mark":{"type":"circle","size":50,"color":"#a0a0a0","opacity":0.45,"clip":true},"encoding":{"y":{"field":"v","type":"quantitative","scale":{"domain":[0.27,0.725],"nice":false,"zero":false},"axis":{"title":null}}}},
    {"mark":{"type":"rule","color":"#333","strokeWidth":0.8,"strokeDash":[2,1],"clip":true},"encoding":{"y":{"field":"lo","type":"quantitative"},"y2":{"field":"q1"}}},
    {"mark":{"type":"rule","color":"#333","strokeWidth":0.8,"strokeDash":[2,1],"clip":true},"encoding":{"y":{"field":"q3","type":"quantitative"},"y2":{"field":"hi"}}},
    {"transform":[{"fold":["lo","hi"],"as":["k","v"]}],"mark":{"type":"tick","orient":"horizontal","size":3.5,"thickness":1,"color":"#222","clip":true},"encoding":{"y":{"field":"v","type":"quantitative"}}},
    {"mark":{"type":"bar","size":7,"fillOpacity":0,"stroke":"#3c3cff","strokeWidth":1,"clip":true},"encoding":{"y":{"field":"q1","type":"quantitative"},"y2":{"field":"q3"}}},
    {"mark":{"type":"tick","orient":"horizontal","size":7,"thickness":1.2,"color":"#ff2020","clip":true},"encoding":{"y":{"field":"md","type":"quantitative"}}},
    {"transform":[{"filter":"isArray(datum.o)"},{"flatten":["o"]}],"mark":{"type":"point","shape":"M-1,0L1,0M0,-1L0,1","size":90,"filled":false,"stroke":"#ff1a1a","strokeWidth":1.2,"opacity":1,"clip":true},"encoding":{"y":{"field":"o","type":"quantitative"}}}
   ]}]},
 {"bounds":"flush","spacing":33,"hconcat":[
  {"title":"MSC07","width":156,"height":129,"transform":[{"filter":"datum.s=='B'&&datum.p=='MSC07'"}],
   "encoding":{"x":{"field":"b","type":"quantitative","scale":{"domain":[-0.17,11.39],"nice":false,"zero":false},"axis":{"values":[1,2,3,4,5,6,7,8,9,10,11],"labels":false,"tickSize":-3,"title":null}}},
   "layer":[
    {"transform":[{"fold":["lo","q1","md","q3","hi"],"as":["k","v"]}],"mark":{"type":"circle","size":50,"color":"#a0a0a0","opacity":0.45,"clip":true},"encoding":{"y":{"field":"v","type":"quantitative","scale":{"domain":[0.27,0.725],"nice":false,"zero":false},"axis":{"title":null}}}},
    {"mark":{"type":"rule","color":"#333","strokeWidth":0.8,"strokeDash":[2,1],"clip":true},"encoding":{"y":{"field":"lo","type":"quantitative"},"y2":{"field":"q1"}}},
    {"mark":{"type":"rule","color":"#333","strokeWidth":0.8,"strokeDash":[2,1],"clip":true},"encoding":{"y":{"field":"q3","type":"quantitative"},"y2":{"field":"hi"}}},
    {"transform":[{"fold":["lo","hi"],"as":["k","v"]}],"mark":{"type":"tick","orient":"horizontal","size":3.5,"thickness":1,"color":"#222","clip":true},"encoding":{"y":{"field":"v","type":"quantitative"}}},
    {"mark":{"type":"bar","size":7,"fillOpacity":0,"stroke":"#3c3cff","strokeWidth":1,"clip":true},"encoding":{"y":{"field":"q1","type":"quantitative"},"y2":{"field":"q3"}}},
    {"mark":{"type":"tick","orient":"horizontal","size":7,"thickness":1.2,"color":"#ff2020","clip":true},"encoding":{"y":{"field":"md","type":"quantitative"}}},
    {"transform":[{"filter":"isArray(datum.o)"},{"flatten":["o"]}],"mark":{"type":"point","shape":"M-1,0L1,0M0,-1L0,1","size":90,"filled":false,"stroke":"#ff1a1a","strokeWidth":1.2,"opacity":1,"clip":true},"encoding":{"y":{"field":"o","type":"quantitative"}}}
   ]},
  {"title":"MSC09","width":172,"height":129,"transform":[{"filter":"datum.s=='B'&&datum.p=='MSC09'"}],
   "encoding":{"x":{"field":"b","type":"quantitative","scale":{"domain":[-0.02,11.3],"nice":false,"zero":false},"axis":{"values":[1,2,3,4,5,6,7,8,9,10,11],"labels":false,"tickSize":-3,"title":"Cofluctuation Amplitude Bins","titlePadding":10}}},
   "layer":[
    {"transform":[{"fold":["lo","q1","md","q3","hi"],"as":["k","v"]}],"mark":{"type":"circle","size":50,"color":"#a0a0a0","opacity":0.45,"clip":true},"encoding":{"y":{"field":"v","type":"quantitative","scale":{"domain":[0.27,0.725],"nice":false,"zero":false},"axis":{"title":null}}}},
    {"mark":{"type":"rule","color":"#333","strokeWidth":0.8,"strokeDash":[2,1],"clip":true},"encoding":{"y":{"field":"lo","type":"quantitative"},"y2":{"field":"q1"}}},
    {"mark":{"type":"rule","color":"#333","strokeWidth":0.8,"strokeDash":[2,1],"clip":true},"encoding":{"y":{"field":"q3","type":"quantitative"},"y2":{"field":"hi"}}},
    {"transform":[{"fold":["lo","hi"],"as":["k","v"]}],"mark":{"type":"tick","orient":"horizontal","size":3.5,"thickness":1,"color":"#222","clip":true},"encoding":{"y":{"field":"v","type":"quantitative"}}},
    {"mark":{"type":"bar","size":7,"fillOpacity":0,"stroke":"#3c3cff","strokeWidth":1,"clip":true},"encoding":{"y":{"field":"q1","type":"quantitative"},"y2":{"field":"q3"}}},
    {"mark":{"type":"tick","orient":"horizontal","size":7,"thickness":1.2,"color":"#ff2020","clip":true},"encoding":{"y":{"field":"md","type":"quantitative"}}},
    {"transform":[{"filter":"isArray(datum.o)"},{"flatten":["o"]}],"mark":{"type":"point","shape":"M-1,0L1,0M0,-1L0,1","size":90,"filled":false,"stroke":"#ff1a1a","strokeWidth":1.2,"opacity":1,"clip":true},"encoding":{"y":{"field":"o","type":"quantitative"}}}
   ]},
  {"title":"MSC10","width":164,"height":129,"transform":[{"filter":"datum.s=='B'&&datum.p=='MSC10'"}],
   "encoding":{"x":{"field":"b","type":"quantitative","scale":{"domain":[-0.3,11.17],"nice":false,"zero":false},"axis":{"values":[1,2,3,4,5,6,7,8,9,10,11],"labels":false,"tickSize":-3,"title":null}}},
   "layer":[
    {"transform":[{"fold":["lo","q1","md","q3","hi"],"as":["k","v"]}],"mark":{"type":"circle","size":50,"color":"#a0a0a0","opacity":0.45,"clip":true},"encoding":{"y":{"field":"v","type":"quantitative","scale":{"domain":[0.27,0.725],"nice":false,"zero":false},"axis":{"title":null}}}},
    {"mark":{"type":"rule","color":"#333","strokeWidth":0.8,"strokeDash":[2,1],"clip":true},"encoding":{"y":{"field":"lo","type":"quantitative"},"y2":{"field":"q1"}}},
    {"mark":{"type":"rule","color":"#333","strokeWidth":0.8,"strokeDash":[2,1],"clip":true},"encoding":{"y":{"field":"q3","type":"quantitative"},"y2":{"field":"hi"}}},
    {"transform":[{"fold":["lo","hi"],"as":["k","v"]}],"mark":{"type":"tick","orient":"horizontal","size":3.5,"thickness":1,"color":"#222","clip":true},"encoding":{"y":{"field":"v","type":"quantitative"}}},
    {"mark":{"type":"bar","size":7,"fillOpacity":0,"stroke":"#3c3cff","strokeWidth":1,"clip":true},"encoding":{"y":{"field":"q1","type":"quantitative"},"y2":{"field":"q3"}}},
    {"mark":{"type":"tick","orient":"horizontal","size":7,"thickness":1.2,"color":"#ff2020","clip":true},"encoding":{"y":{"field":"md","type":"quantitative"}}},
    {"transform":[{"filter":"isArray(datum.o)"},{"flatten":["o"]}],"mark":{"type":"point","shape":"M-1,0L1,0M0,-1L0,1","size":90,"filled":false,"stroke":"#ff1a1a","strokeWidth":1.2,"opacity":1,"clip":true},"encoding":{"y":{"field":"o","type":"quantitative"}}}
   ]}]}
 ]}
],
"config":{
 "font":"Liberation Sans",
 "view":{"stroke":"#7a7a7a","strokeWidth":1},
 "axis":{"labelFont":"Liberation Sans","labelFontSize":14.5,"labelColor":"#111","titleFont":"Liberation Sans","titleFontSize":19,"titleFontWeight":"normal","titleColor":"#111","tickColor":"#555","grid":false,"domain":false},
 "axisY":{"tickCount":6,"labelOverlap":false,"labelFlush":false,"tickSize":-3,"labelPadding":9},
 "title":{"font":"Liberation Sans","fontSize":14,"fontWeight":"normal","color":"#111","offset":6}
}
}
